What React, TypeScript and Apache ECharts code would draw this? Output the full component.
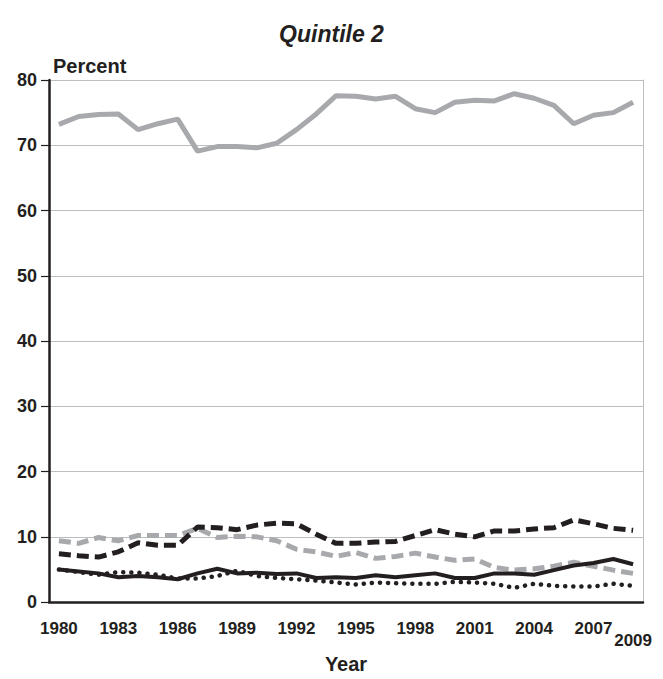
import React, { useEffect, useRef } from "react";
import * as echarts from "echarts";

const years = [
  "1980","1981","1982","1983","1984","1985","1986","1987","1988","1989",
  "1990","1991","1992","1993","1994","1995","1996","1997","1998","1999",
  "2000","2001","2002","2003","2004","2005","2006","2007","2008","2009",
];
const yTicks = [0, 10, 20, 30, 40, 50, 60, 70, 80];
const grayTop = [
  73.2, 74.4, 74.7, 74.8, 72.4, 73.3, 74.0, 69.1, 69.8, 69.8,
  69.6, 70.3, 72.4, 74.8, 77.6, 77.5, 77.1, 77.5, 75.6, 75.0,
  76.6, 76.9, 76.8, 77.9, 77.2, 76.1, 73.3, 74.6, 75.0, 76.6,
];
const blackDashed = [
  7.4, 7.1, 6.9, 7.7, 9.1, 8.7, 8.7, 11.5, 11.4, 11.1,
  11.8, 12.1, 12.0, 10.4, 9.0, 9.0, 9.2, 9.3, 10.2, 11.1,
  10.4, 10.0, 10.9, 10.9, 11.2, 11.4, 12.6, 12.0, 11.3, 11.0,
];
const grayDashed = [
  9.4, 9.0, 9.9, 9.4, 10.2, 10.2, 10.2, 11.3, 9.9, 10.1,
  10.0, 9.4, 8.1, 7.7, 7.0, 7.6, 6.7, 7.0, 7.5, 6.9,
  6.4, 6.6, 5.3, 4.9, 5.1, 5.5, 6.1, 5.5, 4.9, 4.4,
];
const blackSolid = [
  5.0, 4.7, 4.4, 3.8, 4.0, 3.8, 3.5, 4.4, 5.1, 4.4,
  4.5, 4.3, 4.4, 3.7, 3.8, 3.7, 4.1, 3.8, 4.1, 4.4,
  3.7, 3.7, 4.4, 4.4, 4.2, 4.9, 5.6, 6.0, 6.6, 5.8,
];
const blackDotted = [
  5.0, 4.6, 4.2, 4.6, 4.5, 4.2, 3.6, 3.6, 4.0, 4.8,
  4.0, 3.7, 3.5, 3.3, 3.0, 2.7, 3.0, 2.9, 2.8, 2.8,
  3.1, 3.0, 2.8, 2.2, 2.8, 2.5, 2.4, 2.4, 2.8, 2.5,
];

const INK = "#231f20";
const GRAY = "#a7a9ac";
const FONT = "'Liberation Sans', Arial, Helvetica, sans-serif";

export default function App() {
  const ref = useRef<HTMLDivElement>(null);
  useEffect(() => {
    document.body.style.margin = "0";
    if (!ref.current) return;
    const chart = echarts.init(ref.current, null, { renderer: "svg" });
    const labelIdx = (i: number) => i % 3 === 0 && i < years.length - 1;
    chart.setOption({
      animation: false,
      backgroundColor: "#ffffff",
      textStyle: { fontFamily: FONT },
      title: {
        text: "Quintile 2",
        left: "center",
        top: 17,
        textStyle: {
          fontFamily: FONT,
          fontSize: 23,
          fontWeight: "bold",
          fontStyle: "italic",
          color: INK,
        },
      },
      grid: { left: 49, right: 20, top: 80, bottom: 71, containLabel: false },
      xAxis: [
        {
          type: "category",
          data: years,
          boundaryGap: true,
          name: "Year",
          nameLocation: "middle",
          nameGap: 45,
          nameTextStyle: { fontFamily: FONT, fontSize: 20, fontWeight: "bold", color: INK },
          axisLine: { lineStyle: { color: INK, width: 2.5 } },
          axisTick: {
            alignWithLabel: true,
            interval: 0,
            length: 6,
            lineStyle: { color: INK, width: 1.2 },
          },
          axisLabel: {
            interval: 0,
            formatter: (v: string, i: number) =>
              labelIdx(i) ? v : i === years.length - 1 ? "{low|" + v + "}" : "",
            color: INK,
            fontFamily: FONT,
            fontSize: 17,
            fontWeight: "bold",
            margin: 18,
            rich: {
              low: {
                fontFamily: FONT,
                fontSize: 17,
                fontWeight: "bold",
                color: INK,
                padding: [12, 0, 0, 0],
              },
            },
          },
          splitLine: { show: false },
        },
        {
          type: "category",
          data: years,
          boundaryGap: true,
          position: "bottom",
          axisLine: { show: false },
          axisTick: {
            alignWithLabel: true,
            interval: (i: number) => i === years.length - 1,
            length: 19,
            lineStyle: { color: INK, width: 1.2 },
          },
          axisLabel: { show: false },
          splitLine: { show: false },
        },
      ],
      yAxis: [
        {
          type: "value",
          min: 0,
          max: 80,
          interval: 10,
          name: "Percent",
          nameLocation: "end",
          nameGap: 4,
          nameTextStyle: {
            fontFamily: FONT,
            fontSize: 20,
            fontWeight: "bold",
            color: INK,
            align: "left",
            padding: [0, 0, 0, 4],
          },
          axisLine: { show: true, lineStyle: { color: INK, width: 2.5 } },
          axisTick: { show: true, length: 8, lineStyle: { color: INK, width: 1.2 } },
          axisLabel: {
            formatter: (v: number) => (yTicks.includes(v) ? String(v) : ""),
            color: INK,
            fontFamily: FONT,
            fontSize: 18,
            fontWeight: "bold",
            margin: 12,
          },
          splitLine: { show: true, lineStyle: { color: "#bcbdc0", width: 1 } },
        },
        {
          type: "value",
          min: 0,
          max: 80,
          interval: 10,
          position: "right",
          axisLine: { show: true, lineStyle: { color: "#bcbdc0", width: 1 } },
          axisTick: { show: false },
          axisLabel: { show: false },
          splitLine: { show: false },
        },
      ],
      series: [
        {
          name: "Gray solid",
          type: "line",
          data: grayTop,
          symbol: "none",
          lineStyle: { color: GRAY, width: 5 },
          z: 2,
        },
        {
          name: "Gray dashed",
          type: "line",
          data: grayDashed,
          symbol: "none",
          lineStyle: { color: GRAY, width: 5, type: [12, 6] },
          z: 3,
        },
        {
          name: "Black dashed",
          type: "line",
          data: blackDashed,
          symbol: "none",
          lineStyle: { color: INK, width: 5, type: [12, 6] },
          z: 4,
        },
        {
          name: "Black dotted",
          type: "line",
          data: blackDotted,
          symbol: "none",
          lineStyle: { color: INK, width: 4.5, type: [0.1, 8], cap: "round" },
          z: 5,
        },
        {
          name: "Black solid",
          type: "line",
          data: blackSolid,
          symbol: "none",
          lineStyle: { color: INK, width: 4 },
          z: 6,
        },
      ],
    });
    return () => chart.dispose();
  }, []);
  return <div ref={ref} style={{ width: 663, height: 679 }} />;
}
